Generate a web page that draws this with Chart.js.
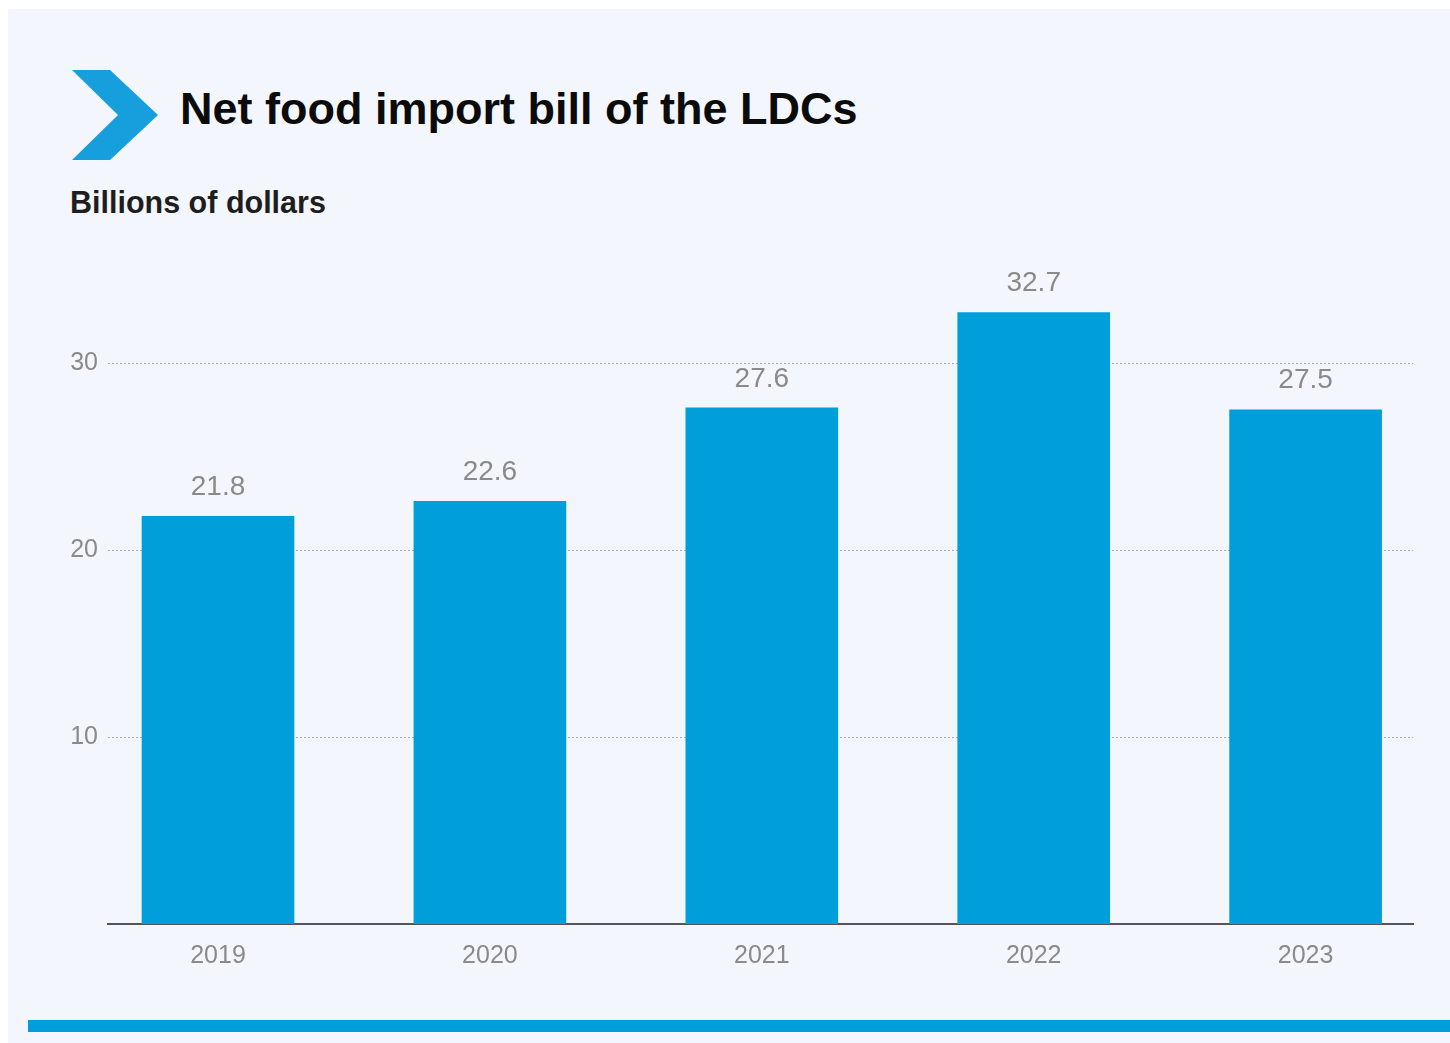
<!DOCTYPE html>
<html>
<head>
<meta charset="utf-8">
<title>Net food import bill of the LDCs</title>
<script src="https://cdn.jsdelivr.net/npm/chart.js@4.4.1/dist/chart.umd.min.js"></script>
<style>
  html, body { margin: 0; padding: 0; background: #ffffff; }
  body { width: 1450px; height: 1043px; position: relative; overflow: hidden; font-family: "Liberation Sans", Arial, sans-serif; }
  .panel { position: absolute; left: 8px; top: 9px; right: 0; bottom: 0; background: #f3f7fd; }
  .chevron { position: absolute; left: 0; top: 0; }
  .title { position: absolute; left: 180px; top: 83px; font-size: 45px; font-weight: bold; color: #0b0b0b; white-space: nowrap; }
  .subtitle { position: absolute; left: 70px; top: 185px; font-size: 30.5px; font-weight: bold; color: #1e1e1e; white-space: nowrap; }
  .footer-bar { position: absolute; left: 28px; top: 1020px; width: 1422px; height: 12px; background: #009edb; }
  #chart { position: absolute; left: 0; top: 0; }
</style>
</head>
<body>
<div class="panel"></div>
<svg class="chevron" width="200" height="200">
  <polygon points="72,70 110,70 158,115 110,160 72,160 118,115" fill="#169fdc"/>
</svg>
<div class="title">Net food import bill of the LDCs</div>
<div class="subtitle">Billions of dollars</div>
<canvas id="chart" width="1450" height="1043"></canvas>
<div class="footer-bar"></div>

<script>
// years on the x axis, values in billions of dollars
var years = ["2019", "2020", "2021", "2022", "2023"];
var importBill = [21.8, 22.6, 27.6, 32.7, 27.5];
var yTicks = [10, 20, 30];

var barBlue = '#009edb';
var labelGrey = '#8a8a8a';

// bars sit on a linear x scale so the axis line can run a bit past the outer bars
var points = [];
for (var i = 0; i < years.length; i++) {
  points.push({ x: i, y: importBill[i] });
}

// value written above each bar
var barValues = {
  id: 'barValues',
  afterDatasetsDraw: function(chart) {
    var ctx = chart.ctx;
    var meta = chart.getDatasetMeta(0);
    ctx.save();
    ctx.font = '28px "Liberation Sans", Arial, sans-serif';
    ctx.fillStyle = labelGrey;
    ctx.textAlign = 'center';
    ctx.textBaseline = 'bottom';
    meta.data.forEach(function(bar, idx) {
      ctx.fillText(importBill[idx].toFixed(1), bar.x, bar.y - 15);
    });
    ctx.restore();
  }
};

var chart = new Chart(document.getElementById('chart'), {
  type: 'bar',
  data: {
    datasets: [{
      label: 'Net food import bill',
      data: points,
      backgroundColor: barBlue,
      borderWidth: 0,
      barThickness: 152
    }]
  },
  options: {
    responsive: false,
    devicePixelRatio: 1,
    animation: false,
    layout: { padding: { top: 269.5, right: 37, bottom: 0, left: 0 } },
    plugins: {
      legend: { display: false },
      tooltip: { enabled: false }
    },
    scales: {
      x: {
        type: 'linear',
        offset: false,
        min: -0.4046,
        max: 4.395,
        afterFit: function(scale) { scale.height = 119; },
        afterBuildTicks: function(scale) {
          scale.ticks = years.map(function(y, idx) { return { value: idx }; });
        },
        ticks: {
          padding: 17,
          color: labelGrey,
          font: { family: '"Liberation Sans", Arial, sans-serif', size: 25 },
          callback: function(value) { return years[value]; }
        },
        grid: { display: false, drawTicks: false, offset: false },
        border: { display: true, color: '#555555', width: 2 }
      },
      y: {
        min: 0,
        max: 35,
        afterFit: function(scale) { scale.width = 108; },
        afterBuildTicks: function(scale) {
          scale.ticks = yTicks.map(function(v) { return { value: v }; });
        },
        ticks: {
          padding: 10,
          color: labelGrey,
          font: { family: '"Liberation Sans", Arial, sans-serif', size: 25 }
        },
        grid: { color: '#a9adb3', lineWidth: 1, drawTicks: false },
        border: { display: false, dash: [2, 2] }
      }
    }
  },
  plugins: [barValues]
});
</script>
</body>
</html>
